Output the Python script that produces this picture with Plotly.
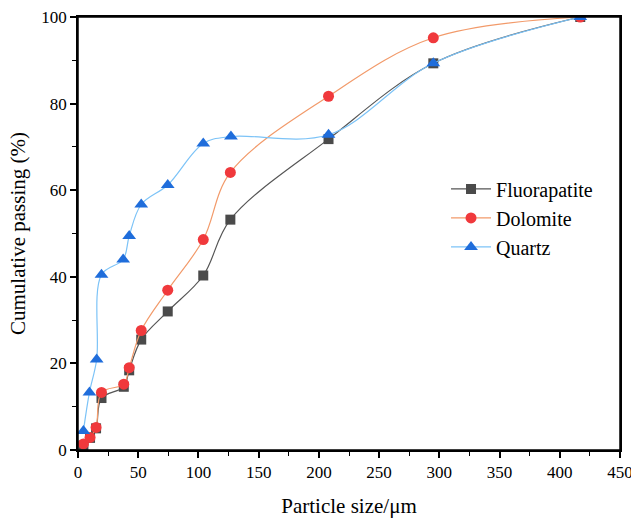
import plotly.graph_objects as go

fluor_x = [4.5, 10, 15, 19.5, 38, 42.5, 52.5, 74.5, 104, 126.5, 208, 295, 417]
fluor_y = [1.0, 2.8, 5.0, 12.0, 14.6, 18.4, 25.5, 32.0, 40.3, 53.2, 71.8, 89.3, 100]
dolo_x = [4.5, 10, 15, 19.5, 38, 42.5, 52.5, 74.5, 104, 126.5, 208, 295, 417]
dolo_y = [1.4, 2.9, 5.2, 13.3, 15.2, 19.0, 27.6, 36.9, 48.6, 64.1, 81.7, 95.2, 100]
quartz_x = [4.5, 9.5, 15.5, 19.5, 37.5, 42.5, 52.5, 74.5, 104, 127, 208, 295, 417]
quartz_y = [4.4, 13.3, 20.9, 40.5, 44.0, 49.4, 56.7, 61.2, 70.8, 72.4, 72.8, 89.3, 100]

font = "Liberation Serif, Times New Roman, serif"

fig = go.Figure()
fig.add_trace(go.Scatter(x=fluor_x, y=fluor_y, name="Fluorapatite", mode="lines+markers",
                         line=dict(color="#555555", width=1.2, shape="spline", smoothing=1.0),
                         marker=dict(symbol="square", size=10, color="#4a4a4a")))
fig.add_trace(go.Scatter(x=dolo_x, y=dolo_y, name="Dolomite", mode="lines+markers",
                         line=dict(color="#f29a6a", width=1.2, shape="spline", smoothing=1.0),
                         marker=dict(symbol="circle", size=11, color="#f0393c")))
fig.add_trace(go.Scatter(x=quartz_x, y=quartz_y, name="Quartz", mode="lines+markers",
                         line=dict(color="#7cc3f7", width=1.2, shape="spline", smoothing=1.0),
                         marker=dict(symbol="triangle-up", size=12, color="#1f6ddb")))

fig.update_layout(
    width=631, height=518,
    margin=dict(l=78, r=11, t=17, b=68),
    paper_bgcolor="white", plot_bgcolor="white",
    font=dict(family=font, size=17, color="black"),
    legend=dict(x=0.679, y=0.536, xanchor="left", yanchor="middle",
                font=dict(size=20, family=font), bgcolor="rgba(0,0,0,0)",
                tracegroupgap=0, itemwidth=40),
    showlegend=True,
    shapes=[dict(type="rect", xref="paper", yref="paper", x0=0, x1=1, y0=0, y1=1,
                 line=dict(color="black", width=1.5), layer="above")],
)
fig.update_xaxes(range=[0, 450], tickvals=list(range(0, 451, 50)), automargin=False,
                 ticklabeloverflow="allow",
                 showgrid=False, zeroline=False, showline=True, linecolor="black", linewidth=1.5,
                 mirror=True, ticks="outside", ticklen=6, tickwidth=1.5, tickcolor="black",
                 minor=dict(ticks="outside", ticklen=4, tickwidth=1.2, tickcolor="black", dtick=25, tick0=0),
                 title=dict(text="Particle size/μm", font=dict(size=21, family=font), standoff=22),
                 tickfont=dict(size=17, family=font))
fig.update_yaxes(range=[0, 100], tickvals=list(range(0, 101, 20)), automargin=False,
                 ticklabeloverflow="allow",
                 showgrid=False, zeroline=False, showline=True, linecolor="black", linewidth=1.5,
                 mirror=True, ticks="outside", ticklen=6, tickwidth=1.5, tickcolor="black",
                 minor=dict(ticks="outside", ticklen=4, tickwidth=1.2, tickcolor="black", dtick=10, tick0=0),
                 title=dict(text="Cumulative passing (%)", font=dict(size=21, family=font), standoff=10),
                 tickfont=dict(size=17, family=font))

fig.write_html("out.html", config={"displayModeBar": False},
               post_script="document.body.style.margin='0';document.body.style.overflow='hidden';")
